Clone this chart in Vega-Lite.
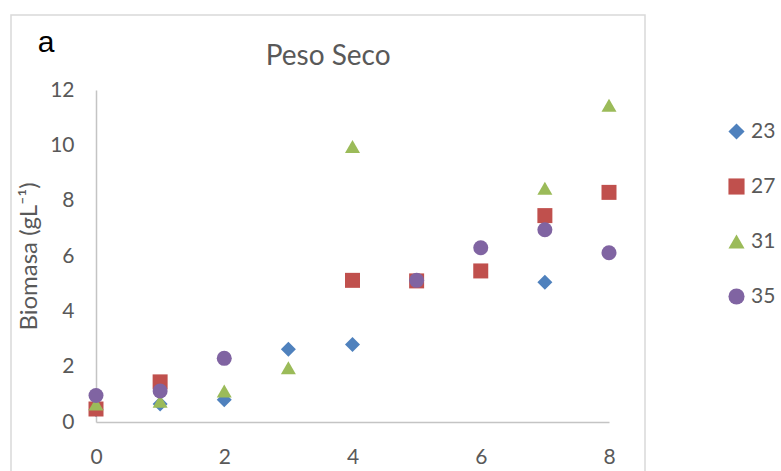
{
  "$schema": "https://vega.github.io/schema/vega-lite/v6.json",
  "width": 513,
  "height": 332,
  "padding": {"left": 10, "top": 14, "right": 0, "bottom": 0},
  "autosize": {"type": "pad"},
  "config": {
    "view": {"stroke": null},
    "font": "Lato",
    "axis": {"grid": false, "ticks": false, "tickSize": 0, "domainColor": "#c4c4c4", "domainWidth": 1.5,
             "labelColor": "#595959", "labelFontSize": 21, "labelFont": "Lato", "titleFont": "Lato",
             "titleColor": "#595959", "titleFontWeight": "normal", "labelFlush": false, "format": "d"}
  },
  "datasets": {
    "biomasa": [
      {"dia": 0, "peso": 0.45, "temp": "23"},
      {"dia": 1, "peso": 0.65, "temp": "23"},
      {"dia": 2, "peso": 0.8, "temp": "23"},
      {"dia": 3, "peso": 2.63, "temp": "23"},
      {"dia": 4, "peso": 2.8, "temp": "23"},
      {"dia": 7, "peso": 5.05, "temp": "23"},
      {"dia": 0, "peso": 0.47, "temp": "27"},
      {"dia": 1, "peso": 1.45, "temp": "27"},
      {"dia": 4, "peso": 5.12, "temp": "27"},
      {"dia": 5, "peso": 5.1, "temp": "27"},
      {"dia": 6, "peso": 5.46, "temp": "27"},
      {"dia": 7, "peso": 7.46, "temp": "27"},
      {"dia": 8, "peso": 8.3, "temp": "27"},
      {"dia": 0, "peso": 0.65, "temp": "31"},
      {"dia": 1, "peso": 0.75, "temp": "31"},
      {"dia": 2, "peso": 1.12, "temp": "31"},
      {"dia": 3, "peso": 1.96, "temp": "31"},
      {"dia": 4, "peso": 9.96, "temp": "31"},
      {"dia": 7, "peso": 8.45, "temp": "31"},
      {"dia": 8, "peso": 11.45, "temp": "31"},
      {"dia": 0, "peso": 0.96, "temp": "35"},
      {"dia": 1, "peso": 1.12, "temp": "35"},
      {"dia": 2, "peso": 2.3, "temp": "35"},
      {"dia": 5, "peso": 5.12, "temp": "35"},
      {"dia": 6, "peso": 6.3, "temp": "35"},
      {"dia": 7, "peso": 6.95, "temp": "35"},
      {"dia": 8, "peso": 6.12, "temp": "35"}
    ],
    "marco": [{"x0": -1.3255, "x1": 8.5614, "y0": -1.99, "y1": 14.711}],
    "panel": [{"etiqueta": "a", "x": -0.78, "y": 13.7}],
    "titulo": [{"texto": "Peso Seco", "x": 3.62, "y": 13.2}]
  },
  "layer": [
    {
      "data": {"name": "marco"},
      "mark": {"type": "rect", "fill": null, "stroke": "#d9d9d9", "strokeWidth": 1.5, "clip": false},
      "encoding": {
        "x": {"field": "x0", "type": "quantitative", "scale": {"domain": [0, 8], "nice": false, "zero": false}},
        "x2": {"field": "x1"},
        "y": {"field": "y0", "type": "quantitative", "scale": {"domain": [0, 12], "nice": false, "zero": false}},
        "y2": {"field": "y1"}
      }
    },
    {
      "data": {"name": "biomasa"},
      "mark": {"type": "point", "filled": true, "size": 225, "opacity": 1},
      "encoding": {
        "x": {"field": "dia", "type": "quantitative",
              "axis": {"title": null, "values": [0, 2, 4, 6, 8], "labelPadding": 24}},
        "y": {"field": "peso", "type": "quantitative",
              "axis": {"title": "Biomasa (gL⁻¹)", "values": [0, 2, 4, 6, 8, 10, 12], "labelPadding": 22,
                       "titleFontSize": 24, "titlePadding": 8}},
        "color": {"field": "temp", "type": "nominal",
                  "scale": {"domain": ["23", "27", "31", "35"], "range": ["#4f81bd", "#c0504d", "#9bbb59", "#8064a2"]},
                  "legend": {"title": null, "orient": "none", "legendX": 630, "legendY": 31,
                             "labelFontSize": 21, "labelColor": "#595959", "labelFont": "Lato",
                             "symbolSize": 260, "rowPadding": 33, "labelOffset": 4}},
        "shape": {"field": "temp", "type": "nominal",
                  "scale": {"domain": ["23", "27", "31", "35"], "range": ["diamond", "square", "triangle-up", "circle"]}}
      }
    },
    {
      "data": {"name": "titulo"},
      "mark": {"type": "text", "font": "Lato", "fontSize": 28, "color": "#595959", "baseline": "middle", "clip": false},
      "encoding": {
        "x": {"field": "x", "type": "quantitative"},
        "y": {"field": "y", "type": "quantitative"},
        "text": {"field": "texto"}
      }
    },
    {
      "data": {"name": "panel"},
      "mark": {"type": "text", "font": "Liberation Sans", "fontSize": 30, "color": "#000000", "clip": false},
      "encoding": {
        "x": {"field": "x", "type": "quantitative"},
        "y": {"field": "y", "type": "quantitative"},
        "text": {"field": "etiqueta"}
      }
    }
  ]
}
